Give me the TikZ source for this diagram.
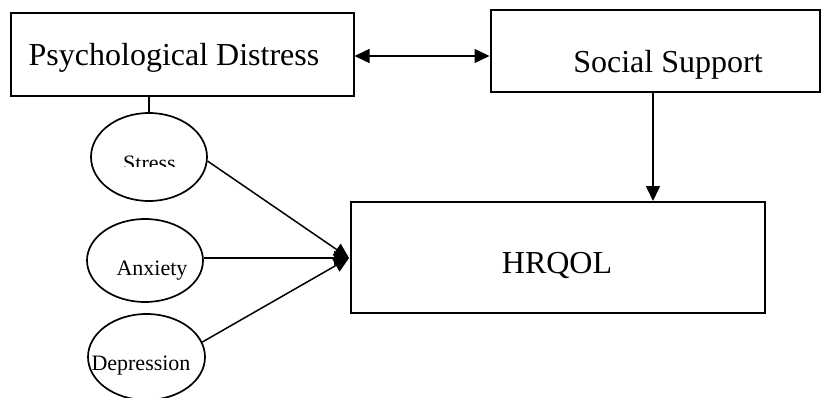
\documentclass[tikz,border=0pt]{standalone}
\usepackage{fontspec}
\setmainfont{Liberation Serif}
\usetikzlibrary{arrows.meta,shapes.geometric}
\tikzset{
  box/.style={draw, line width=2pt, rectangle, inner sep=0pt},
  oval/.style={draw, line width=1.7pt, ellipse, inner sep=0pt},
  big/.style={font=\fontsize{32}{36}\selectfont, inner sep=0pt, anchor=base},
  small/.style={font=\fontsize{22}{26}\selectfont, inner sep=0pt, anchor=base},
  conn/.style={line width=1.5pt},
  tip/.style={-{Triangle[length=15pt,width=14pt]}},
  tiptwo/.style={{Triangle[length=15pt,width=14pt]}-{Triangle[length=15pt,width=14pt]}}
}
\begin{document}
\begin{tikzpicture}[x=1pt,y=-1pt]
\useasboundingbox (0,0) rectangle (821,398);
% boxes
\node[box, minimum width=343pt, minimum height=83pt] (pd) at (182,54.5) {};
\node[box, minimum width=329pt, minimum height=82pt] (ss) at (655,51.5) {};
\node[box, minimum width=414pt, minimum height=111pt] (hq) at (557.5,257.5) {};
\node[big] (pdt) at (174,66) {Psychological Distress};
\node[big] (sst) at (668,73) {Social Support};
\node[big] (hqt) at (557,273) {HRQOL};
% ellipses
\node[oval, minimum width=116pt, minimum height=88pt] (st) at (149,157) {};
\node[oval, minimum width=116pt, minimum height=83pt] (an) at (145,260.5) {};
\node[oval, minimum width=117pt, minimum height=86pt] (de) at (146.5,357) {};
\begin{scope}
\clip (100,140) rectangle (200,167);
\node[small] (stt) at (149.5,171) {Stress};
\end{scope}
\node[small] (ant) at (152,275) {Anxiety};
\node[small] (det) at (141,370) {Depression};
% connectors
\draw[conn] (st.north |- pd.south) -- (st.north);
\draw[conn, tiptwo] (pd.east |- 0,56) -- (ss.west |- 0,56);
\draw[conn, tip] (ss.south -| 653,0) -- (hq.north -| 653,0);
\coordinate (m) at (349,258);
\draw[conn, tip] (st.-4) -- (m);
\draw[conn, tip] (an.east |- m) -- (m);
\draw[conn, tip] (de.15) -- (m);
\end{tikzpicture}
\end{document}
